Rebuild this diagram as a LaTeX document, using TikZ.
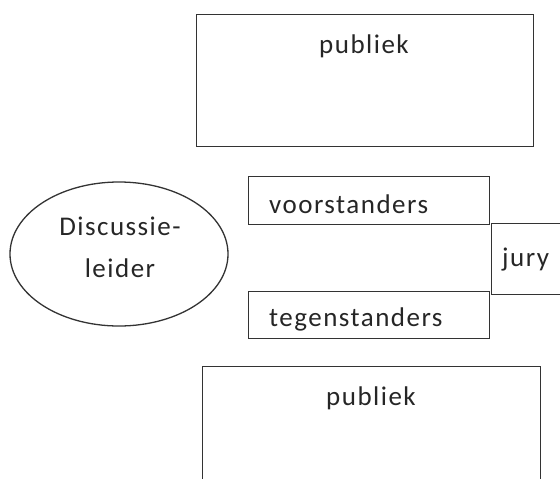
\documentclass[tikz,border=0pt]{standalone}
\usepackage{fontspec}
\setmainfont{Carlito}[LetterSpace=5.5]
\usetikzlibrary{shapes.geometric}
\begin{document}
\begin{tikzpicture}[x=1pt,y=-1pt,
  shape box/.style={draw=black!80,line width=1.3pt,rectangle,anchor=north west,inner sep=0pt},
  lbl/.style={inner sep=0pt,text=black!85,font=\fontsize{27}{32}\selectfont},
  oval/.style={draw=black!80,line width=1.3pt,ellipse,inner sep=0pt}]
\useasboundingbox (0,0) rectangle (560,479);
\clip (0,0) rectangle (560,479);
% top audience
\node[shape box,minimum width=337pt,minimum height=132.5pt] (pub1) at (196,13.5) {};
\node[lbl,anchor=base] (pub1t) at (364,53) {publiek};
% discussion leader
\node[oval,minimum width=218pt,minimum height=144pt] (leader) at (119,254) {};
\node[lbl,anchor=base] (leadt1) at (120,235) {Discussie-};
\node[lbl,anchor=base] (leadt2) at (120,277) {leider};
% for
\node[shape box,minimum width=241pt,minimum height=48pt] (voor) at (248,176) {};
\node[lbl,anchor=base west] (voort) at (269,213) {voorstanders};
% jury
\node[shape box,minimum width=80pt,minimum height=71pt] (jury) at (491,223) {};
\node[lbl,anchor=base west] (juryt) at (502,266) {jury};
% against
\node[shape box,minimum width=241pt,minimum height=47pt] (teg) at (248,291) {};
\node[lbl,anchor=base west] (tegt) at (269,326) {tegenstanders};
% bottom audience
\node[shape box,minimum width=338pt,minimum height=130pt] (pub2) at (202,366) {};
\node[lbl,anchor=base] (pub2t) at (371,405) {publiek};
\end{tikzpicture}
\end{document}
